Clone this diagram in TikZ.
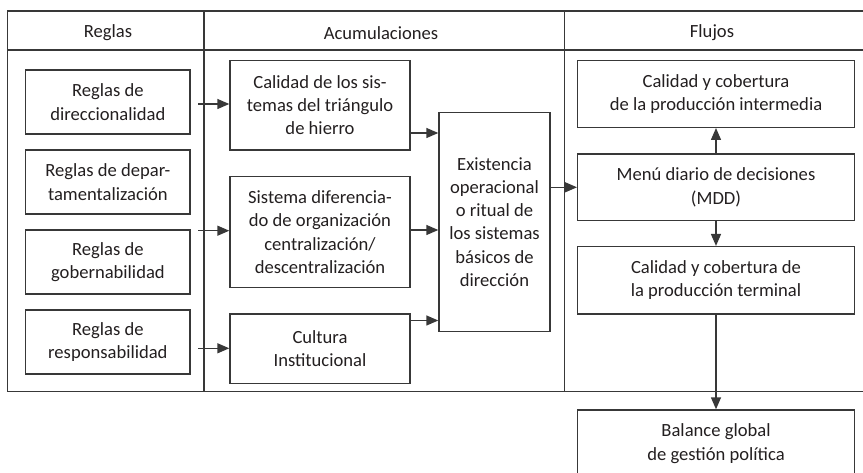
\documentclass[tikz,border=0pt]{standalone}
\usepackage{fontspec}
\setmainfont{Carlito}
\usetikzlibrary{arrows.meta,calc}
\definecolor{ln}{HTML}{383838}
\definecolor{tx}{HTML}{231F20}
\begin{document}
\begin{tikzpicture}[x=1pt,y=-1pt,
  box/.style={draw=ln,line width=1.4pt,align=center,inner sep=0pt,text=tx,
    font=\fontsize{18.6}{23.3}\selectfont},
  hdr/.style={text=tx,font=\fontsize{18.6}{23.3}\selectfont,inner sep=0pt},
  arr/.style={draw=ln,line width=1.4pt,-{Triangle[length=12pt,width=10pt]}},
  frm/.style={draw=ln,line width=1.4pt}]
\useasboundingbox (0,0) rectangle (863,473);
\clip (0,0) rectangle (863,473);
% frame
\draw[frm] (863,11) -- (7.3,11) -- (7.3,391.7) -- (863,391.7);
\draw[frm] (7.3,50) -- (863,50);
\draw[frm] (204,11) -- (204,391.7);
\draw[frm] (564.7,11) -- (564.7,391.7);
\node[hdr] (h1) at (108,33) {Reglas};
\node[hdr] (h2) at (381,33) {Acumulaciones};
\node[hdr] (h3) at (712,33) {Flujos};
% left column
\node[box,minimum width=164.3pt,minimum height=64pt] (r1) at (107.9,102) {Reglas de\\direccionalidad};
\node[box,minimum width=164.3pt,minimum height=64pt] (r2) at (107.9,182) {Reglas de depar-\\tamentalización};
\node[box,minimum width=164.3pt,minimum height=64pt] (r3) at (107.9,262) {Reglas de\\gobernabilidad};
\node[box,minimum width=164.3pt,minimum height=64pt] (r4) at (107.9,342) {Reglas de\\responsabilidad};
% middle column
\node[box,minimum width=180pt,minimum height=89.3pt] (a1) at (320,105.3) {Calidad de los sis-\\temas del triángulo\\de hierro};
\node[box,minimum width=180pt,minimum height=110.6pt] (a2) at (320,232) {Sistema diferencia-\\do de organización\\centralización/\\descentralización};
\node[box,minimum width=180pt,minimum height=69.3pt] (a3) at (320,348.7) {Cultura\\Institucional};
\node[box,minimum width=111pt,minimum height=218.6pt] (ex) at (494.5,222) {Existencia\\operacional\\o ritual de\\los sistemas\\básicos de\\dirección};
% right column
\node[box,minimum width=276.6pt,minimum height=66.6pt] (f1) at (716,94) {Calidad y cobertura\\de la producción intermedia};
\node[box,minimum width=276.6pt,minimum height=66.7pt] (f2) at (716,187.3) {Menú diario de decisiones\\(MDD)};
\node[box,minimum width=276.6pt,minimum height=67.3pt] (f3) at (716,280.3) {Calidad y cobertura de\\la producción terminal};
\node[box,minimum width=276.6pt,minimum height=67pt] (f4) at (716,443.5) {Balance global\\de gestión política};
% arrows left -> middle
\coordinate (s1) at (198,104);
\coordinate (s2) at (198,230.7);
\coordinate (s3) at (198,348.3);
\draw[arr] (s1) -- (s1 -| a1.west);
\draw[arr] (s2) -- (s2 -| a2.west);
\draw[arr] (s3) -- (s3 -| a3.west);
% arrows middle -> existencia
\coordinate (m1) at (410,133);
\coordinate (m2) at (410,230);
\coordinate (m3) at (410,320.5);
\draw[arr] (m1 -| a1.east) -- (m1 -| ex.west);
\draw[arr] (m2 -| a2.east) -- (m2 -| ex.west);
\draw[arr] (m3 -| a3.east) -- (m3 -| ex.west);
% existencia -> MDD
\draw[arr] (ex.east |- f2.west) -- (f2.west);
% vertical arrows
\draw[arr] (f2.north) -- (f1.south);
\draw[arr] (f2.south) -- (f3.north);
\draw[arr] (f3.south) -- (f4.north);
\end{tikzpicture}
\end{document}
